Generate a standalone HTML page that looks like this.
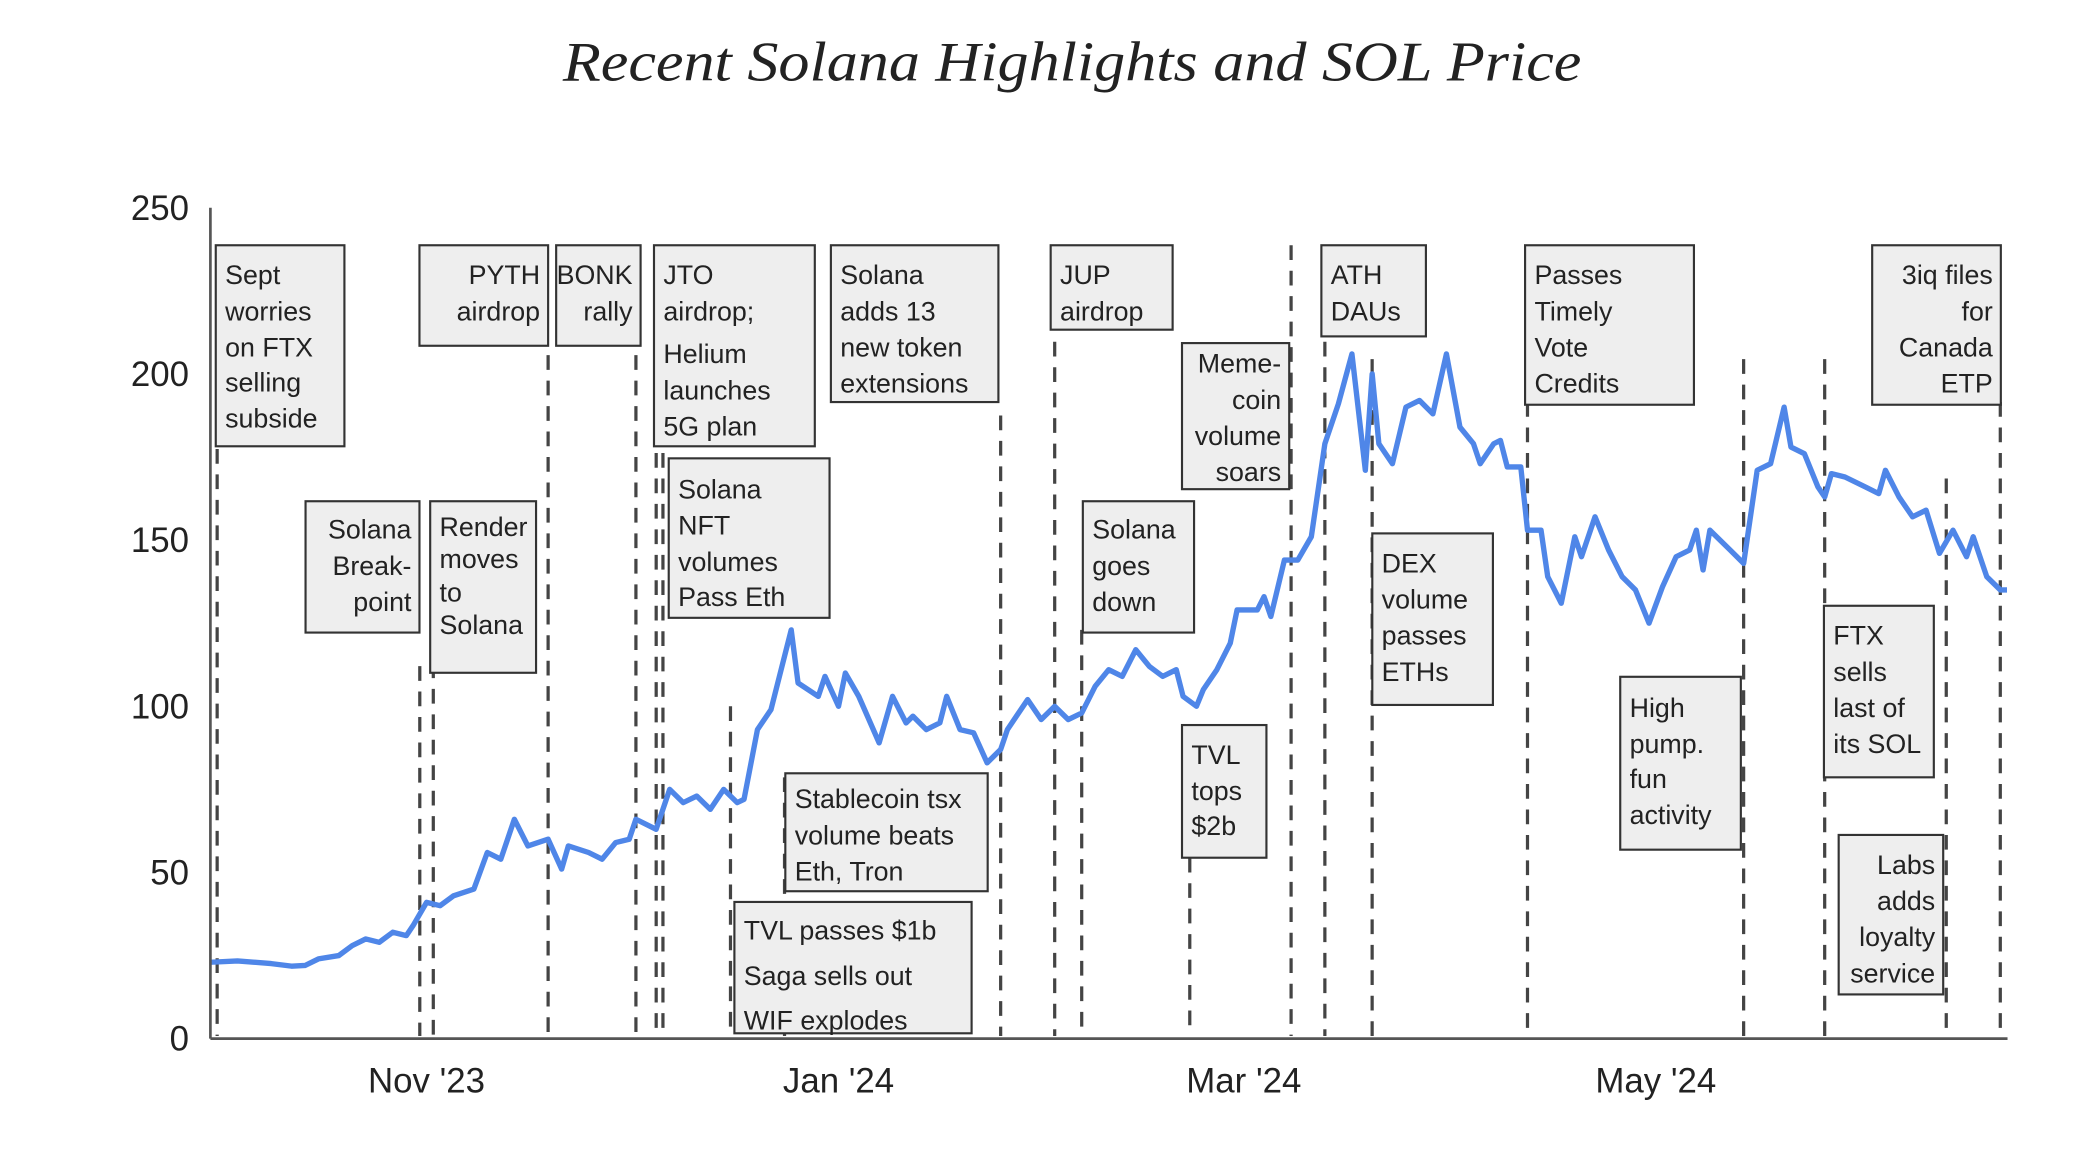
<!DOCTYPE html>
<html><head><meta charset="utf-8">
<style>
html,body{margin:0;padding:0;background:#fff;}
svg{display:block;}
.box rect{fill:#eeeeee;stroke:#333;stroke-width:1.6;}
.box text{font-family:"Liberation Sans",Arial,sans-serif;font-size:20px;fill:#222;}
.ev{stroke:#444;stroke-width:2.4;stroke-dasharray:11 8;}
.tick{font-family:"Liberation Sans",Arial,sans-serif;font-size:26px;fill:#222;}
</style></head>
<body>
<svg id="chart" width="2100" height="1172" viewBox="0 0 1567 874.5" preserveAspectRatio="none" xmlns="http://www.w3.org/2000/svg">
<text x="800" y="60" text-anchor="middle" textLength="760" lengthAdjust="spacingAndGlyphs" font-family="'Liberation Serif',serif" font-style="italic" font-size="42" fill="#222">Recent Solana Highlights and SOL Price</text>
<g id="events"></g>
<path id="price" fill="none" stroke="#4f86e8" stroke-width="4" stroke-linejoin="round"/>
<g id="boxes"></g>
<g id="axes"></g>
</svg>
<script>
// days since 2023-09-30
const days=[0,4,9,12,14,16,19,21,23,25,27,29,30,32,34,36,39,41,43,45,47,50,52,53,56,58,60,62,63,66,68,70,72,74,76,78,79,81,83,86,87,90,91,93,94,96,99,101,103,104,106,108,109,111,113,115,117,118,121,123,125,127,129,131,133,135,137,139,141,143,144,146,147,149,151,152,155,156,157,159,161,163,165,167,169,171,172,173,175,177,179,181,183,185,187,188,190,191,192,194,195,197,198,200,202,203,205,207,209,211,213,215,217,219,220,221,222,225,227,229,231,233,234,236,238,239,240,242,245,247,248,250,252,254,256,258,260,261,263,265,266];
const prices=[23,23.4,22.6,21.8,22,24,25,28,30,29,32,31,34,41,40,43,45,56,54,66,58,60,51,58,56,54,59,60,66,63,75,71,73,69,75,71,72,93,99,123,107,103,109,100,110,103,89,103,95,97,93,95,103,93,92,83,87,93,102,96,100,96,98,106,111,109,117,112,109,111,103,100,105,111,119,129,129,133,127,144,144,151,179,191,206,171,200,179,173,190,192,188,206,184,179,173,179,180,172,172,153,153,139,131,151,145,157,147,139,135,125,136,145,147,153,141,153,147,143,171,173,190,178,176,166,163,170,169,166,164,171,163,157,159,146,153,145,151,139,135,135];
const yTicks=[0,50,100,150,200,250];
const xTickLabels=["Nov '23","Jan '24","Mar '24","May '24"];
const xTickDays=[32,93,153,214];
const eventDays=[1,31,33,50,63,66,67,77,85,117,125,129,145,160,165,172,195,227,239,257,265];
const eventTops=[335,497,495,265,265,262,262,527,580,310,255,470,640,183,255,268,300,268,268,357,300];

const X0=157,X1=1498,Y0=775,PXD=5.04;
const x=d=>X0+d*PXD;
const y=v=>Y0-v*(Y0-155)/250;
const NS="http://www.w3.org/2000/svg";
function mk(tag,attrs,parent){const e=document.createElementNS(NS,tag);for(const k in attrs)e.setAttribute(k,attrs[k]);parent.appendChild(e);return e;}

const ev=document.getElementById('events');
eventDays.forEach((d,i)=>{
  const l=mk('line',{class:'ev',x1:x(d),x2:x(d),y1:eventTops[i],y2:Y0-2},ev);
  
  
});
document.getElementById('price').setAttribute('d',days.map((d,i)=>(i?'L':'M')+x(d).toFixed(1)+','+y(prices[i]).toFixed(1)).join(''));

const ax=document.getElementById('axes');
const ya=mk('line',{x1:X0,x2:X0,y1:155,y2:Y0,stroke:'#555','stroke-width':2},ax);


const xa=mk('line',{x1:X0,x2:X1,y1:Y0,y2:Y0,stroke:'#555','stroke-width':2},ax);


yTicks.forEach(v=>{
  const t=mk('text',{class:'tick',x:141,y:y(v)+9,'text-anchor':'end'},ax);t.textContent=v;
  
  
});
xTickLabels.forEach((s,i)=>{
  const t=mk('text',{class:'tick',x:x(xTickDays[i]),y:815,'text-anchor':'middle'},ax);t.textContent=s;
  
  
});

const boxes=[
 [161,183,257,333,'l',20,["Sept","worries","on FTX","selling","subside"],[205,232,259,285,312]],
 [228,374,313,472,'r',20,["Solana","Break-","point"],[395,422,449]],
 [321,374,400,502,'l',18,["Render","moves","to","Solana"],[393,417,442,466]],
 [313,183,409,258,'r',20,["PYTH","airdrop"],[205,232]],
 [415,183,478,258,'r',20,["BONK","rally"],[205,232]],
 [488,183,608,333,'l',20,["JTO","airdrop;","Helium","launches","5G plan"],[205,232,264,291,318]],
 [499,342,619,461,'l',20,["Solana","NFT","volumes","Pass Eth"],[365,392,419,445]],
 [620,183,745,300,'l',20,["Solana","adds 13","new token","extensions"],[205,232,259,286]],
 [586,577,737,665,'l',20,["Stablecoin tsx","volume beats","Eth, Tron"],[596,623,650]],
 [548,673,725,771,'l',20,["TVL passes $1b","Saga sells out","WIF explodes"],[694,728,761]],
 [784,183,875,246,'l',20,["JUP","airdrop"],[205,232]],
 [882,256,962,365,'r',20,["Meme-","coin","volume","soars"],[271,298,325,352]],
 [808,374,891,472,'l',20,["Solana","goes","down"],[395,422,449]],
 [882,541,945,640,'l',20,["TVL","tops","$2b"],[563,590,616]],
 [986,183,1064,251,'l',20,["ATH","DAUs"],[205,232]],
 [1024,398,1114,526,'l',20,["DEX","volume","passes","ETHs"],[420,447,474,501]],
 [1138,183,1264,302,'l',20,["Passes","Timely","Vote","Credits"],[205,232,259,286]],
 [1209,505,1299,634,'l',20,["High","pump.","fun","activity"],[528,555,581,608]],
 [1397,183,1493,302,'r',20,["3iq files","for","Canada","ETP"],[205,232,259,286]],
 [1361,452,1443,580,'l',20,["FTX","sells","last of","its SOL"],[474,501,528,555]],
 [1372,623,1450,742,'r',20,["Labs","adds","loyalty","service"],[645,672,699,726]]
];
const bg=document.getElementById('boxes');
boxes.forEach(b=>{
  const g=mk('g',{class:'box'},bg);
  
  
  mk('rect',{x:b[0],y:b[1],width:b[2]-b[0],height:b[3]-b[1]},g);
  b[6].forEach((s,i)=>{
    const r=b[4]==='r';
    const t=mk('text',{x:r?b[2]-6:b[0]+7,y:b[7][i]+7,'text-anchor':r?'end':'start','font-size':b[5]},g);
    t.textContent=s;
  });
});
</script>
</body></html>
